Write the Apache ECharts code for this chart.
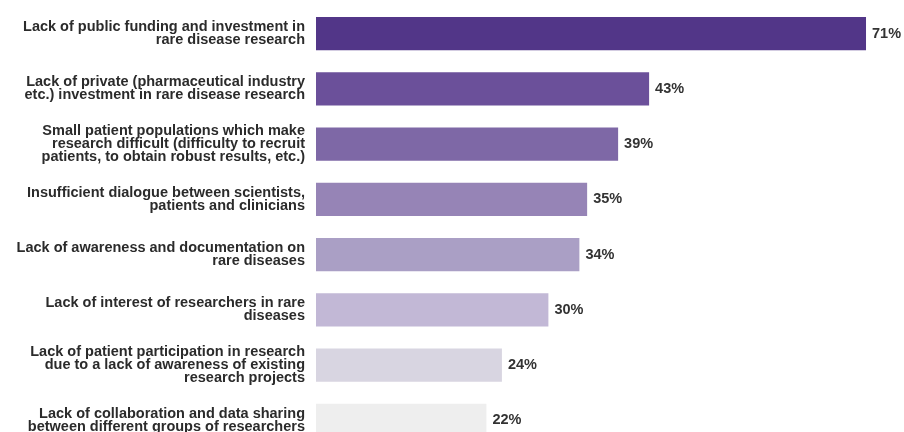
<!DOCTYPE html>
<html>
<head>
<meta charset="utf-8">
<script src="https://cdn.jsdelivr.net/npm/echarts@6/dist/echarts.min.js"></script>
<style>
  html, body { margin: 0; padding: 0; background: #ffffff; overflow: hidden; }
  #chart { width: 904px; height: 448px; }
</style>
</head>
<body>
<div id="chart"></div>
<script>
// Barriers to rare disease research (share of respondents, %)
const categories = [
  'Lack of public funding and investment in\nrare disease research',
  'Lack of private (pharmaceutical industry\netc.) investment in rare disease research',
  'Small patient populations which make\nresearch difficult (difficulty to recruit\npatients, to obtain robust results, etc.)',
  'Insufficient dialogue between scientists,\npatients and clinicians',
  'Lack of awareness and documentation on\nrare diseases',
  'Lack of interest of researchers in rare\ndiseases',
  'Lack of patient participation in research\ndue to a lack of awareness of existing\nresearch projects',
  'Lack of collaboration and data sharing\nbetween different groups of researchers'
];
const values = [71, 43, 39, 35, 34, 30, 24, 22];
const barColors = ['#523688', '#6b509a', '#7e68a6', '#9684b6', '#aa9fc5', '#c2b8d6', '#d8d5e1', '#eeeeee'];

const chart = echarts.init(document.getElementById('chart'), null, { renderer: 'canvas' });

chart.setOption({
  backgroundColor: '#ffffff',
  animation: false,
  grid: { left: 316, right: 7, top: 6, bottom: 0, containLabel: false },
  xAxis: {
    type: 'value',
    min: 0,
    max: 75,
    show: false
  },
  yAxis: {
    type: 'category',
    inverse: true,
    data: categories,
    axisLine: { show: false },
    axisTick: { show: false },
    splitLine: { show: false },
    axisLabel: {
      margin: 11,
      align: 'right',
      fontFamily: 'Arial, "Liberation Sans", sans-serif',
      fontWeight: 'bold',
      fontSize: 14.5,
      lineHeight: 13,
      color: '#2b2b2b'
    }
  },
  series: [{
    type: 'bar',
    barWidth: '60%',
    data: values.map((v, i) => ({ value: v, itemStyle: { color: barColors[i] } })),
    label: {
      show: true,
      position: 'right',
      distance: 6,
      formatter: '{c}%',
      fontFamily: 'Arial, "Liberation Sans", sans-serif',
      fontWeight: 'bold',
      fontSize: 14.5,
      color: '#333333'
    }
  }]
});
</script>
</body>
</html>
